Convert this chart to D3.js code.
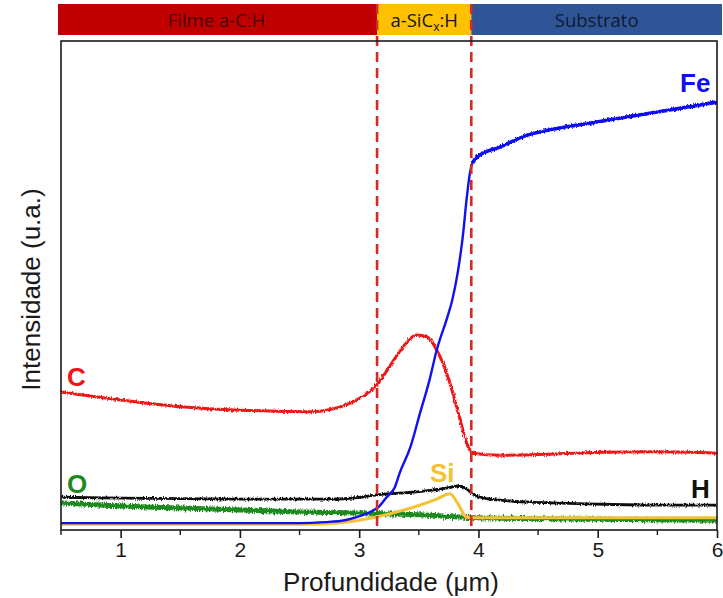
<!DOCTYPE html>
<html>
<head>
<meta charset="utf-8">
<script src="https://cdn.jsdelivr.net/npm/d3@7"></script>
<style>
  html, body { margin: 0; padding: 0; background: #fff; }
  svg { display: block; }
</style>
</head>
<body>
<div id="chart"></div>
<script>
// Depth profile (GDOES-style) of an a-C:H film on steel, intensities in arbitrary units.
const depthFe = [0.5, 2.5, 2.71, 2.88, 3.01, 3.11, 3.17, 3.23, 3.30, 3.34, 3.43, 3.51, 3.59, 3.65, 3.74, 3.78, 3.83, 3.87, 3.90, 3.93, 3.95, 3.99, 4.04, 4.18, 4.37, 4.68, 4.93, 5.50, 6.0];
const valFe   = [1.4, 1.4, 1.6, 2.0, 2.9, 3.9, 4.9, 6.7, 8.8, 11.7, 17.0, 23.9, 30.7, 36.8, 43.6, 47.0, 53.2, 60.3, 67.5, 73.2, 75.1, 76.3, 77.1, 78.3, 80.4, 82.2, 83.2, 85.5, 87.5];

const depthC = [0.5, 0.74, 1.0, 1.51, 2.0, 2.3, 2.6, 2.75, 2.9, 3.0, 3.15, 3.28, 3.40, 3.48, 3.57, 3.65, 3.76, 3.84, 3.91, 3.95, 4.18, 4.60, 5.02, 5.50, 6.0];
const valC   = [28.2, 27.4, 26.6, 25.2, 24.5, 24.3, 24.2, 24.6, 25.7, 26.9, 29.7, 34.4, 38.4, 39.9, 39.5, 36.8, 30.1, 23.1, 17.2, 15.7, 15.3, 15.5, 15.9, 16.0, 15.7];

const depthH = [0.5, 1.0, 2.0, 2.5, 2.75, 3.01, 3.15, 3.48, 3.74, 3.83, 3.89, 3.95, 4.05, 4.18, 4.43, 4.68, 4.99, 5.50, 6.0];
const valH   = [6.7, 6.5, 6.3, 6.3, 6.3, 6.7, 7.2, 7.8, 8.6, 9.0, 8.6, 7.4, 6.5, 6.1, 5.7, 5.5, 5.3, 5.1, 5.1];

const depthSi = [0.5, 2.6, 2.8, 3.0, 3.15, 3.35, 3.5, 3.65, 3.76, 3.83, 3.9, 3.95, 4.5, 6.0];
const valSi   = [1.2, 1.2, 1.4, 2.0, 2.7, 3.9, 5.0, 6.3, 7.4, 5.3, 2.6, 2.5, 2.5, 2.5];

const depthO = [0.5, 1.0, 1.5, 2.0, 2.5, 3.0, 3.5, 4.0, 5.0, 6.0];
const valO   = [5.5, 4.9, 4.5, 4.1, 3.7, 3.5, 3.1, 2.5, 2.2, 2.0];

// Layer boundaries (µm) and layer names
const boundaries = [3.15, 3.94];
const layers = [
  { name: "Filme a-C:H", from: 0.5, to: 3.15 },
  { name: "a-SiCx:H",   from: 3.15, to: 3.94 },
  { name: "Substrato",  from: 3.94, to: 6.0 }
];
const layerFill = ["#C00000", "#FFC000", "#2F5597"];
const layerText = ["#4A0000", "#141414", "#101A33"];

const xTicks = [1, 2, 3, 4, 5, 6];
const xMinor = [0.5, 1.5, 2.5, 3.5, 4.5, 5.5];

const series = [
  { key: "O",  x: depthO,  y: valO,  color: "#1E8A1E", width: 5.0, rough: "rough2" },
  { key: "Si", x: depthSi, y: valSi, color: "#F4C232", width: 3.0, rough: null },
  { key: "H",  x: depthH,  y: valH,  color: "#111111", width: 2.8, rough: "rough" },
  { key: "C",  x: depthC,  y: valC,  color: "#F01414", width: 3.0, rough: "rough" },
  { key: "Fe", x: depthFe, y: valFe, color: "#1010F0", width: 2.4, rough: null }
];

const W = 723, H = 598;
const margin = { top: 41, right: 6, bottom: 68, left: 61 };

const svg = d3.select("#chart").append("svg")
  .attr("width", W).attr("height", H)
  .style("font-family", "'Liberation Sans', Arial, sans-serif");

const x = d3.scaleLinear().domain([0.5, 6]).range([margin.left, W - margin.right]);
const y = d3.scaleLinear().domain([0, 100]).range([H - margin.bottom, margin.top]);

// Slight roughness for the measured (noisy) signals
const defs = svg.append("defs");
function roughFilter(id, scale) {
  const f = defs.append("filter").attr("id", id)
    .attr("filterUnits", "userSpaceOnUse")
    .attr("x", 0).attr("y", 0).attr("width", W).attr("height", H);
  f.append("feTurbulence").attr("type", "fractalNoise")
    .attr("baseFrequency", "0.9 0.3").attr("numOctaves", 2).attr("seed", 3).attr("result", "n");
  f.append("feDisplacementMap").attr("in", "SourceGraphic").attr("in2", "n")
    .attr("scale", scale).attr("xChannelSelector", "R").attr("yChannelSelector", "G");
}
roughFilter("rough", 3.5);
roughFilter("rough2", 5);

// Layer bar on top
const barTop = 4, barH = 31;
const barX0 = (d, i) => i === 0 ? x(d.from) - 3 : x(d.from);
const barX1 = (d, i) => i === layers.length - 1 ? x(d.to) + 5 : x(d.to);
svg.append("g").selectAll("rect").data(layers).join("rect")
  .attr("x", barX0)
  .attr("width", (d, i) => barX1(d, i) - barX0(d, i))
  .attr("y", barTop).attr("height", barH)
  .attr("fill", (d, i) => layerFill[i]);

const barLabels = svg.append("g")
  .style("font-family", "'Open Sans', 'Liberation Sans', sans-serif")
  .style("font-size", "18.5px");
layers.forEach((d, i) => {
  const t = barLabels.append("text")
    .attr("x", (barX0(d, i) + barX1(d, i)) / 2 + (i === 0 ? -1 : 0))
    .attr("y", 27)
    .attr("text-anchor", "middle")
    .attr("fill", layerText[i]);
  if (d.name === "a-SiCx:H") {
    t.append("tspan").text("a-SiC");
    t.append("tspan").attr("dy", 4).style("font-size", "12px").text("x");
    t.append("tspan").attr("dy", -4).text(":H");
  } else {
    t.text(d.name);
  }
});

// Data lines
const plot = svg.append("g");
const lineGen = d3.line().x(d => x(d[0])).y(d => y(d[1])).curve(d3.curveMonotoneX);
series.forEach(s => {
  const pts = s.x.map((d, i) => [d, s.y[i]]);
  plot.append("path")
    .datum(pts)
    .attr("d", lineGen)
    .attr("fill", "none")
    .attr("stroke", s.color)
    .attr("stroke-width", s.width)
    .attr("stroke-linejoin", "round")
    .attr("filter", s.rough ? `url(#${s.rough})` : null);
});

// Noisy tail of the Fe signal in the substrate
{
  const s = series.find(d => d.key === "Fe");
  const pts = s.x.map((d, i) => [d, s.y[i]]).filter(d => d[0] >= 3.95);
  plot.append("path")
    .datum(pts)
    .attr("d", lineGen)
    .attr("fill", "none").attr("stroke", s.color).attr("stroke-width", 3.6)
    .attr("filter", "url(#rough)");
}

// Layer boundaries (dashed)
svg.append("g").selectAll("line").data(boundaries).join("line")
  .attr("x1", d => x(d)).attr("x2", d => x(d))
  .attr("y1", barTop).attr("y2", H - margin.bottom)
  .attr("stroke", "#D42A2A").attr("stroke-width", 2.6)
  .attr("stroke-dasharray", "10,6");

// Frame
svg.append("rect")
  .attr("x", margin.left).attr("y", margin.top)
  .attr("width", W - margin.left - margin.right)
  .attr("height", H - margin.top - margin.bottom)
  .attr("fill", "none").attr("stroke", "#1a1a1a").attr("stroke-width", 1.6);

// X axis
const xAxis = svg.append("g").attr("transform", `translate(0,${H - margin.bottom})`)
  .call(d3.axisBottom(x).tickValues(xTicks).tickFormat(d3.format("d")).tickSize(8).tickPadding(4));
xAxis.select(".domain").remove();
xAxis.selectAll(".tick line").attr("stroke", "#1a1a1a").attr("stroke-width", 1.6);
xAxis.selectAll("text").style("font-size", "21px").style("font-family", "'Liberation Sans', Arial, sans-serif").attr("fill", "#1a1a1a");

svg.append("g").selectAll("line").data(xMinor).join("line")
  .attr("x1", d => x(d)).attr("x2", d => x(d))
  .attr("y1", H - margin.bottom).attr("y2", H - margin.bottom + 5)
  .attr("stroke", "#1a1a1a").attr("stroke-width", 1.4);

// Axis titles
svg.append("text")
  .attr("x", (x(0.5) + x(6)) / 2 + 2).attr("y", 591)
  .attr("text-anchor", "middle")
  .style("font-size", "26px").attr("fill", "#1a1a1a")
  .text("Profundidade (μm)");

svg.append("text")
  .attr("transform", `translate(40,${(y(0) + y(100)) / 2 + 4}) rotate(-90)`)
  .attr("text-anchor", "middle")
  .style("font-size", "26px").attr("fill", "#1a1a1a")
  .text("Intensidade (u.a.)");

// Element labels
const labels = [
  { t: "Fe", x: 680, y: 92,  c: "#1010F0" },
  { t: "C",  x: 67,  y: 386, c: "#F01414" },
  { t: "O",  x: 67,  y: 493, c: "#1E8A1E" },
  { t: "Si", x: 430, y: 482, c: "#F4C232" },
  { t: "H",  x: 691, y: 498, c: "#111111" }
];
svg.append("g").selectAll("text").data(labels).join("text")
  .attr("x", d => d.x).attr("y", d => d.y)
  .attr("fill", d => d.c)
  .style("font-size", "26px").style("font-weight", "bold")
  .text(d => d.t);
</script>
</body>
</html>
